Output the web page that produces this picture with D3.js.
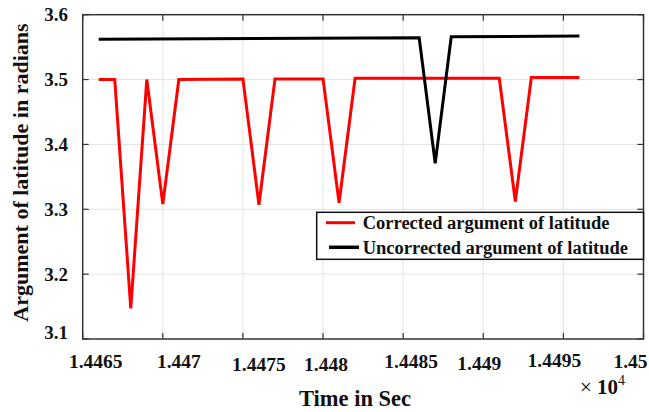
<!DOCTYPE html>
<meta charset="utf-8">
<head>
<script src="https://d3js.org/d3.v7.min.js"></script>
<style>
    body { margin: 0; background: #fff; }
    text { font-family: "Liberation Serif", "Times New Roman", serif; font-weight: bold; fill: #111; }
    .grid line { stroke: #e3e3e3; stroke-width: 1px; }
    .frame { fill: none; stroke: #333; stroke-width: 1.5px; }
    .series { fill: none; stroke-width: 3px; stroke-linejoin: miter; }
</style>
</head>
<body>
<svg id="chart" width="649" height="412"></svg>

<script>
    // time in seconds (axis shows them x 10^4)
    var correctedTime = [14466, 14467, 14468, 14469, 14470, 14471, 14475, 14476, 14477, 14480, 14481, 14482, 14491, 14492, 14493, 14496];
    var correctedValue = [3.500, 3.500, 3.147, 3.500, 3.308, 3.500, 3.501, 3.307, 3.501, 3.501, 3.310, 3.502, 3.502, 3.312, 3.503, 3.503];

    var uncorrectedTime = [14466, 14486, 14487, 14488, 14496];
    var uncorrectedValue = [3.562, 3.5645, 3.371, 3.566, 3.567];

    var xTicks = [14465, 14470, 14475, 14480, 14485, 14490, 14495, 14500];
    var yTicks = [3.1, 3.2, 3.3, 3.4, 3.5, 3.6];

    var legendLabels = ["Corrected argument of latitude", "Uncorrected argument of latitude"];
    var legendColors = ["#ff0000", "#000000"];

    // the x labels in the picture sit a little off their ticks
    var xLabelShift = [13, 16, 16, 3, 8, -4, -9, -13];
    var xLabelDrop = [0, 0, 3, 3, 0, 2, -1, 0];

    var svg = d3.select("#chart");
    var plotLeft = 82.7, plotRight = 643.5, plotTop = 14.7, plotBottom = 339;

    var x = d3.scaleLinear().domain([14465, 14500]).range([plotLeft, plotRight]);
    var y = d3.scaleLinear().domain([3.1, 3.6]).range([plotBottom, plotTop]);

    // grid
    svg.append("g").attr("class", "grid")
      .selectAll("line").data(xTicks.slice(1, -1)).enter().append("line")
      .attr("x1", function(d) { return x(d); }).attr("x2", function(d) { return x(d); })
      .attr("y1", plotTop).attr("y2", plotBottom);
    svg.append("g").attr("class", "grid")
      .selectAll("line").data(yTicks.slice(1, -1)).enter().append("line")
      .attr("y1", function(d) { return y(d); }).attr("y2", function(d) { return y(d); })
      .attr("x1", plotLeft).attr("x2", plotRight);

    // inward ticks on all four sides
    var tickLen = 6;
    var ticks = svg.append("g").attr("stroke", "#333").attr("stroke-width", 1.2);
    xTicks.forEach(function(t) {
      ticks.append("line").attr("x1", x(t)).attr("x2", x(t)).attr("y1", plotBottom).attr("y2", plotBottom - tickLen);
      ticks.append("line").attr("x1", x(t)).attr("x2", x(t)).attr("y1", plotTop).attr("y2", plotTop + tickLen);
    });
    yTicks.forEach(function(t) {
      ticks.append("line").attr("y1", y(t)).attr("y2", y(t)).attr("x1", plotLeft).attr("x2", plotLeft + tickLen);
      ticks.append("line").attr("y1", y(t)).attr("y2", y(t)).attr("x1", plotRight).attr("x2", plotRight - tickLen);
    });

    svg.append("rect").attr("class", "frame")
      .attr("x", plotLeft).attr("y", plotTop).attr("width", plotRight - plotLeft).attr("height", plotBottom - plotTop);

    // tick labels
    svg.append("g").selectAll("text").data(xTicks).enter().append("text")
      .attr("x", function(d, i) { return x(d) + xLabelShift[i]; })
      .attr("y", function(d, i) { return 368 + xLabelDrop[i]; })
      .attr("text-anchor", "middle")
      .style("font-size", "19.5px")
      .text(function(d) { return d3.format("")(+(d / 1e4).toFixed(4)); });

    svg.append("g").selectAll("text").data(yTicks).enter().append("text")
      .attr("x", 68)
      .attr("y", function(d) { return y(d) + 6.5 - (d === 3.1 ? 7 : 0); })
      .attr("text-anchor", "end")
      .style("font-size", "19px")
      .text(function(d) { return d3.format(".1f")(d); });

    // axis titles
    svg.append("text")
      .attr("x", 355).attr("y", 406)
      .attr("text-anchor", "middle")
      .style("font-size", "22.5px")
      .text("Time in Sec");

    svg.append("text")
      .attr("transform", "translate(28,172.5) rotate(-90)")
      .attr("text-anchor", "middle")
      .style("font-size", "22px")
      .text("Argument of latitude in radians");

    var expo = svg.append("text").attr("x", 580).attr("y", 394).style("font-size", "21px");
    expo.append("tspan").style("font-weight", "normal").text("\u00d7 ");
    expo.append("tspan").text("10");
    expo.append("tspan").attr("dy", -9).style("font-size", "14px").style("font-weight", "normal").text("4");

    // series
    var line = d3.line()
      .x(function(d) { return x(d[0]); })
      .y(function(d) { return y(d[1]); });

    svg.append("path").attr("class", "series")
      .attr("stroke", legendColors[0])
      .attr("d", line(d3.zip(correctedTime, correctedValue)));

    svg.append("path").attr("class", "series")
      .attr("stroke", legendColors[1])
      .attr("d", line(d3.zip(uncorrectedTime, uncorrectedValue)));

    // legend
    var legend = svg.append("g");
    legend.append("rect")
      .attr("x", 316.7).attr("y", 212.3).attr("width", plotRight - 316.7).attr("height", 47)
      .attr("fill", "#fff").attr("stroke", "#111").attr("stroke-width", 1.5);
    var rows = legend.selectAll("g.row").data(legendLabels).enter().append("g")
      .attr("transform", function(d, i) { return "translate(0," + (222.7 + i * 24.6) + ")"; });
    rows.append("line")
      .attr("x1", function(d, i) { return i ? 329 : 326; })
      .attr("x2", function(d, i) { return i ? 359 : 355; })
      .attr("stroke", function(d, i) { return legendColors[i]; })
      .attr("stroke-width", function(d, i) { return i ? 3.5 : 3; });
    rows.append("text")
      .attr("x", 362.7).attr("y", 6.5)
      .style("font-size", "18.5px")
      .text(function(d) { return d; });
</script>
</body>
